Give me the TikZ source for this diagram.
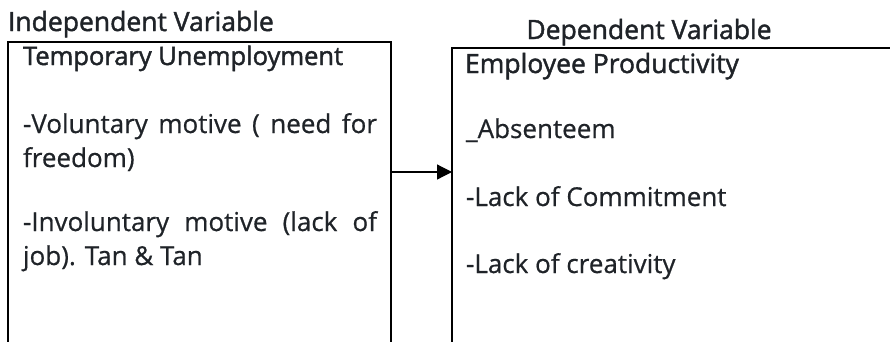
\documentclass[tikz,border=0pt]{standalone}
\usepackage{fontspec}
\setmainfont{Open Sans}
\newfontfamily\bodyfont[FakeBold=0.6]{Open Sans}
\newfontfamily\headfont[FakeBold=1.6]{Open Sans}
\usetikzlibrary{arrows.meta}
\definecolor{ink}{HTML}{1F2328}
\begin{document}
\begin{tikzpicture}[x=1pt,y=-1pt,
  every node/.style={inner sep=0pt,outer sep=0pt,text=ink},
  body/.style={anchor=base west,font=\bodyfont\fontsize{26}{34}\selectfont},
  head/.style={anchor=base west,font=\headfont\fontsize{26.5}{32}\selectfont},
  frame/.style={draw=black,line width=2.6pt,anchor=north west},
  link/.style={draw=black,line width=1.2pt,-{Triangle[length=15pt,width=15pt]}}]
\useasboundingbox (0,0) rectangle (890,341);
\clip (0,0) rectangle (890,341);
% the two variable boxes run past the lower (and right) edge
\node[frame,minimum width=383pt,minimum height=400pt] (ivbox) at (8,42) {};
\node[frame,minimum width=500pt,minimum height=400pt] (dvbox) at (452,48) {};
% connector between the boxes
\coordinate (mid) at (0,172);
\draw[link] (ivbox.east |- mid) -- (dvbox.west |- mid);
% column headings
\node[head] (ivlabel) at (8,31) {Independent Variable};
\node[head,anchor=base] (dvlabel) at (649,39) {Dependent Variable};
% independent variable
\node[head,font=\headfont\fontsize{25.5}{32}\selectfont] (ivtitle) at (23,65) {Temporary Unemployment};
\node[body] (iv1a) at (23,133) {\makebox[354pt][s]{-Voluntary motive ( need for}};
\node[body] (iv1b) at (23,167) {freedom)};
\node[body] (iv2a) at (23,231) {\makebox[354pt][s]{-Involuntary motive (lack of}};
\node[body] (iv2b) at (23,265) {job). Tan \& Tan};
% dependent variable
\node[head] (dvtitle) at (465,73) {Employee Productivity};
\node[body] (dv1) at (466,138) {\_Absenteem};
\node[body] (dv2) at (466,206) {-Lack of Commitment};
\node[body] (dv3) at (466,273) {-Lack of creativity};
\end{tikzpicture}
\end{document}
